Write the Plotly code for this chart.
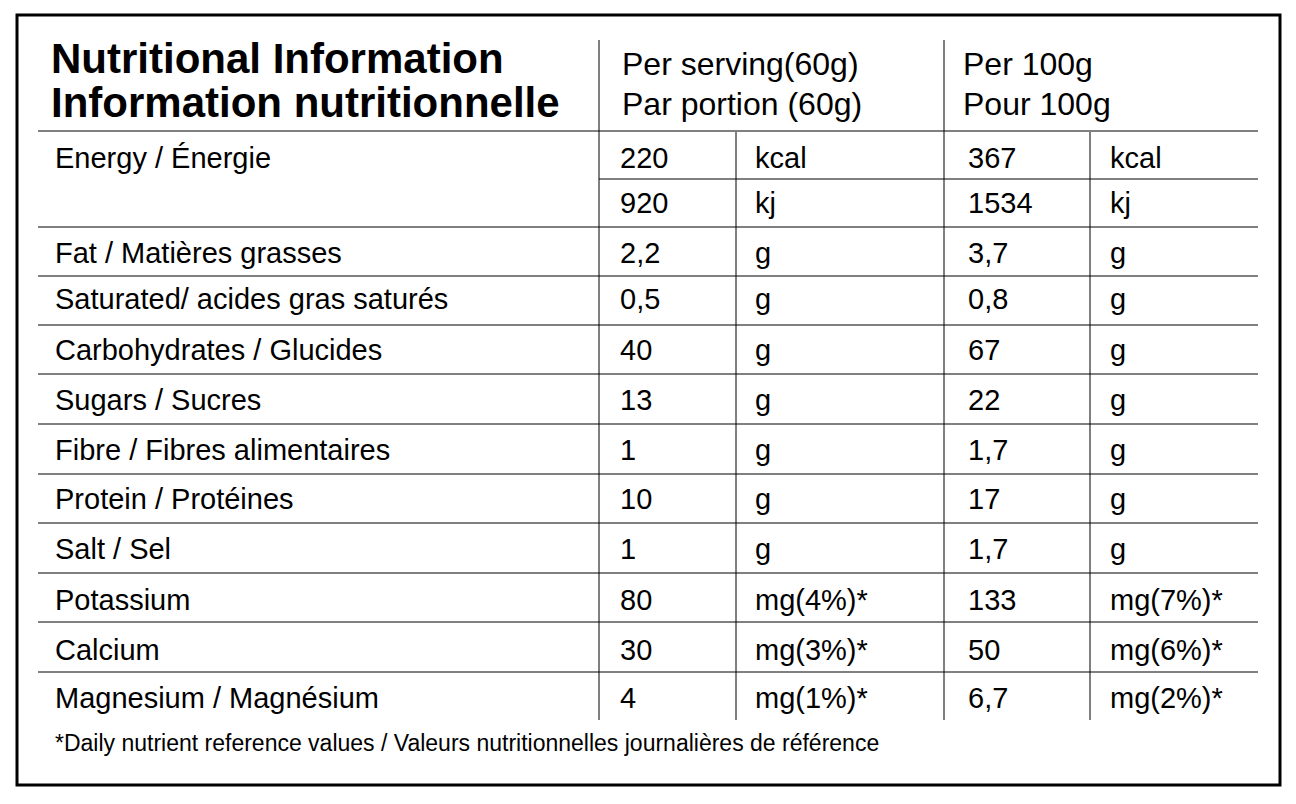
import plotly.graph_objects as go

labels = ["Energy / Énergie", "", "Fat / Matières grasses", "Saturated/ acides gras saturés",
          "Carbohydrates / Glucides", "Sugars / Sucres", "Fibre / Fibres alimentaires",
          "Protein / Protéines", "Salt / Sel", "Potassium", "Calcium", "Magnesium / Magnésium"]
serving_vals = ["220", "920", "2,2", "0,5", "40", "13", "1", "10", "1", "80", "30", "4"]
serving_units = ["kcal", "kj", "g", "g", "g", "g", "g", "g", "g", "mg(4%)*", "mg(3%)*", "mg(1%)*"]
per100_vals = ["367", "1534", "3,7", "0,8", "67", "22", "1,7", "17", "1,7", "133", "50", "6,7"]
per100_units = ["kcal", "kj", "g", "g", "g", "g", "g", "g", "g", "mg(7%)*", "mg(6%)*", "mg(2%)*"]
title_lines = ["Nutritional Information", "Information nutritionnelle"]
col_heads = [["Per serving(60g)", "Par portion (60g)"], ["Per 100g", "Pour 100g"]]
footnote = "*Daily nutrient reference values / Valeurs nutritionnelles journalières de référence"

row_y = [158, 203, 253, 299, 350, 400, 450, 499, 549, 600, 650, 698]
row_lines = [179, 227, 276, 325, 374, 424, 474, 523, 573, 622, 672]
FONT = "Liberation Sans, Arial, sans-serif"

fig = go.Figure()
shapes = [dict(type="rect", x0=17, y0=15, x1=1280, y1=785, line=dict(color="black", width=3))]
shapes.append(dict(type="line", x0=38, x1=1258, y0=131, y1=131, line=dict(color="black", width=1)))
for x, y0 in [(599, 40), (944, 40), (736, 132), (1090, 132)]:
    shapes.append(dict(type="line", x0=x, x1=x, y0=y0, y1=720, line=dict(color="black", width=1)))
for y in row_lines:
    x0 = 599 if y == 179 else 38
    shapes.append(dict(type="line", x0=x0, x1=1258, y0=y, y1=y, line=dict(color="black", width=1)))

ann = []
def txt(x, y, s, size, bold=False):
    ann.append(dict(x=x, y=y, text=f"<b>{s}</b>" if bold else s, showarrow=False,
                    xanchor="left", yanchor="middle", font=dict(family=FONT, size=size, color="black")))

txt(49, 58, title_lines[0], 42, True)
txt(49, 102, title_lines[1], 42, True)
for (l1, l2), x in zip(col_heads, [620, 961]):
    txt(x, 64, l1, 32)
    txt(x, 104, l2, 32)
for i, y in enumerate(row_y):
    txt(53, y, labels[i], 29)
    txt(618, y, serving_vals[i], 29)
    txt(753, y, serving_units[i], 29)
    txt(966, y, per100_vals[i], 29)
    txt(1108, y, per100_units[i], 29)
txt(53, 743, footnote, 23)

fig.add_trace(go.Scatter(x=[0], y=[0], mode="markers", marker=dict(opacity=0), hoverinfo="skip"))
# browser body margin is 8px, so shift ranges to compensate
fig.update_layout(width=1296, height=804, margin=dict(l=0, r=0, t=0, b=0),
                  plot_bgcolor="white", paper_bgcolor="white", showlegend=False,
                  shapes=shapes, annotations=ann,
                  xaxis=dict(range=[8, 1304], visible=False, fixedrange=True),
                  yaxis=dict(range=[812, 8], visible=False, fixedrange=True))
fig.write_html("out.html")
